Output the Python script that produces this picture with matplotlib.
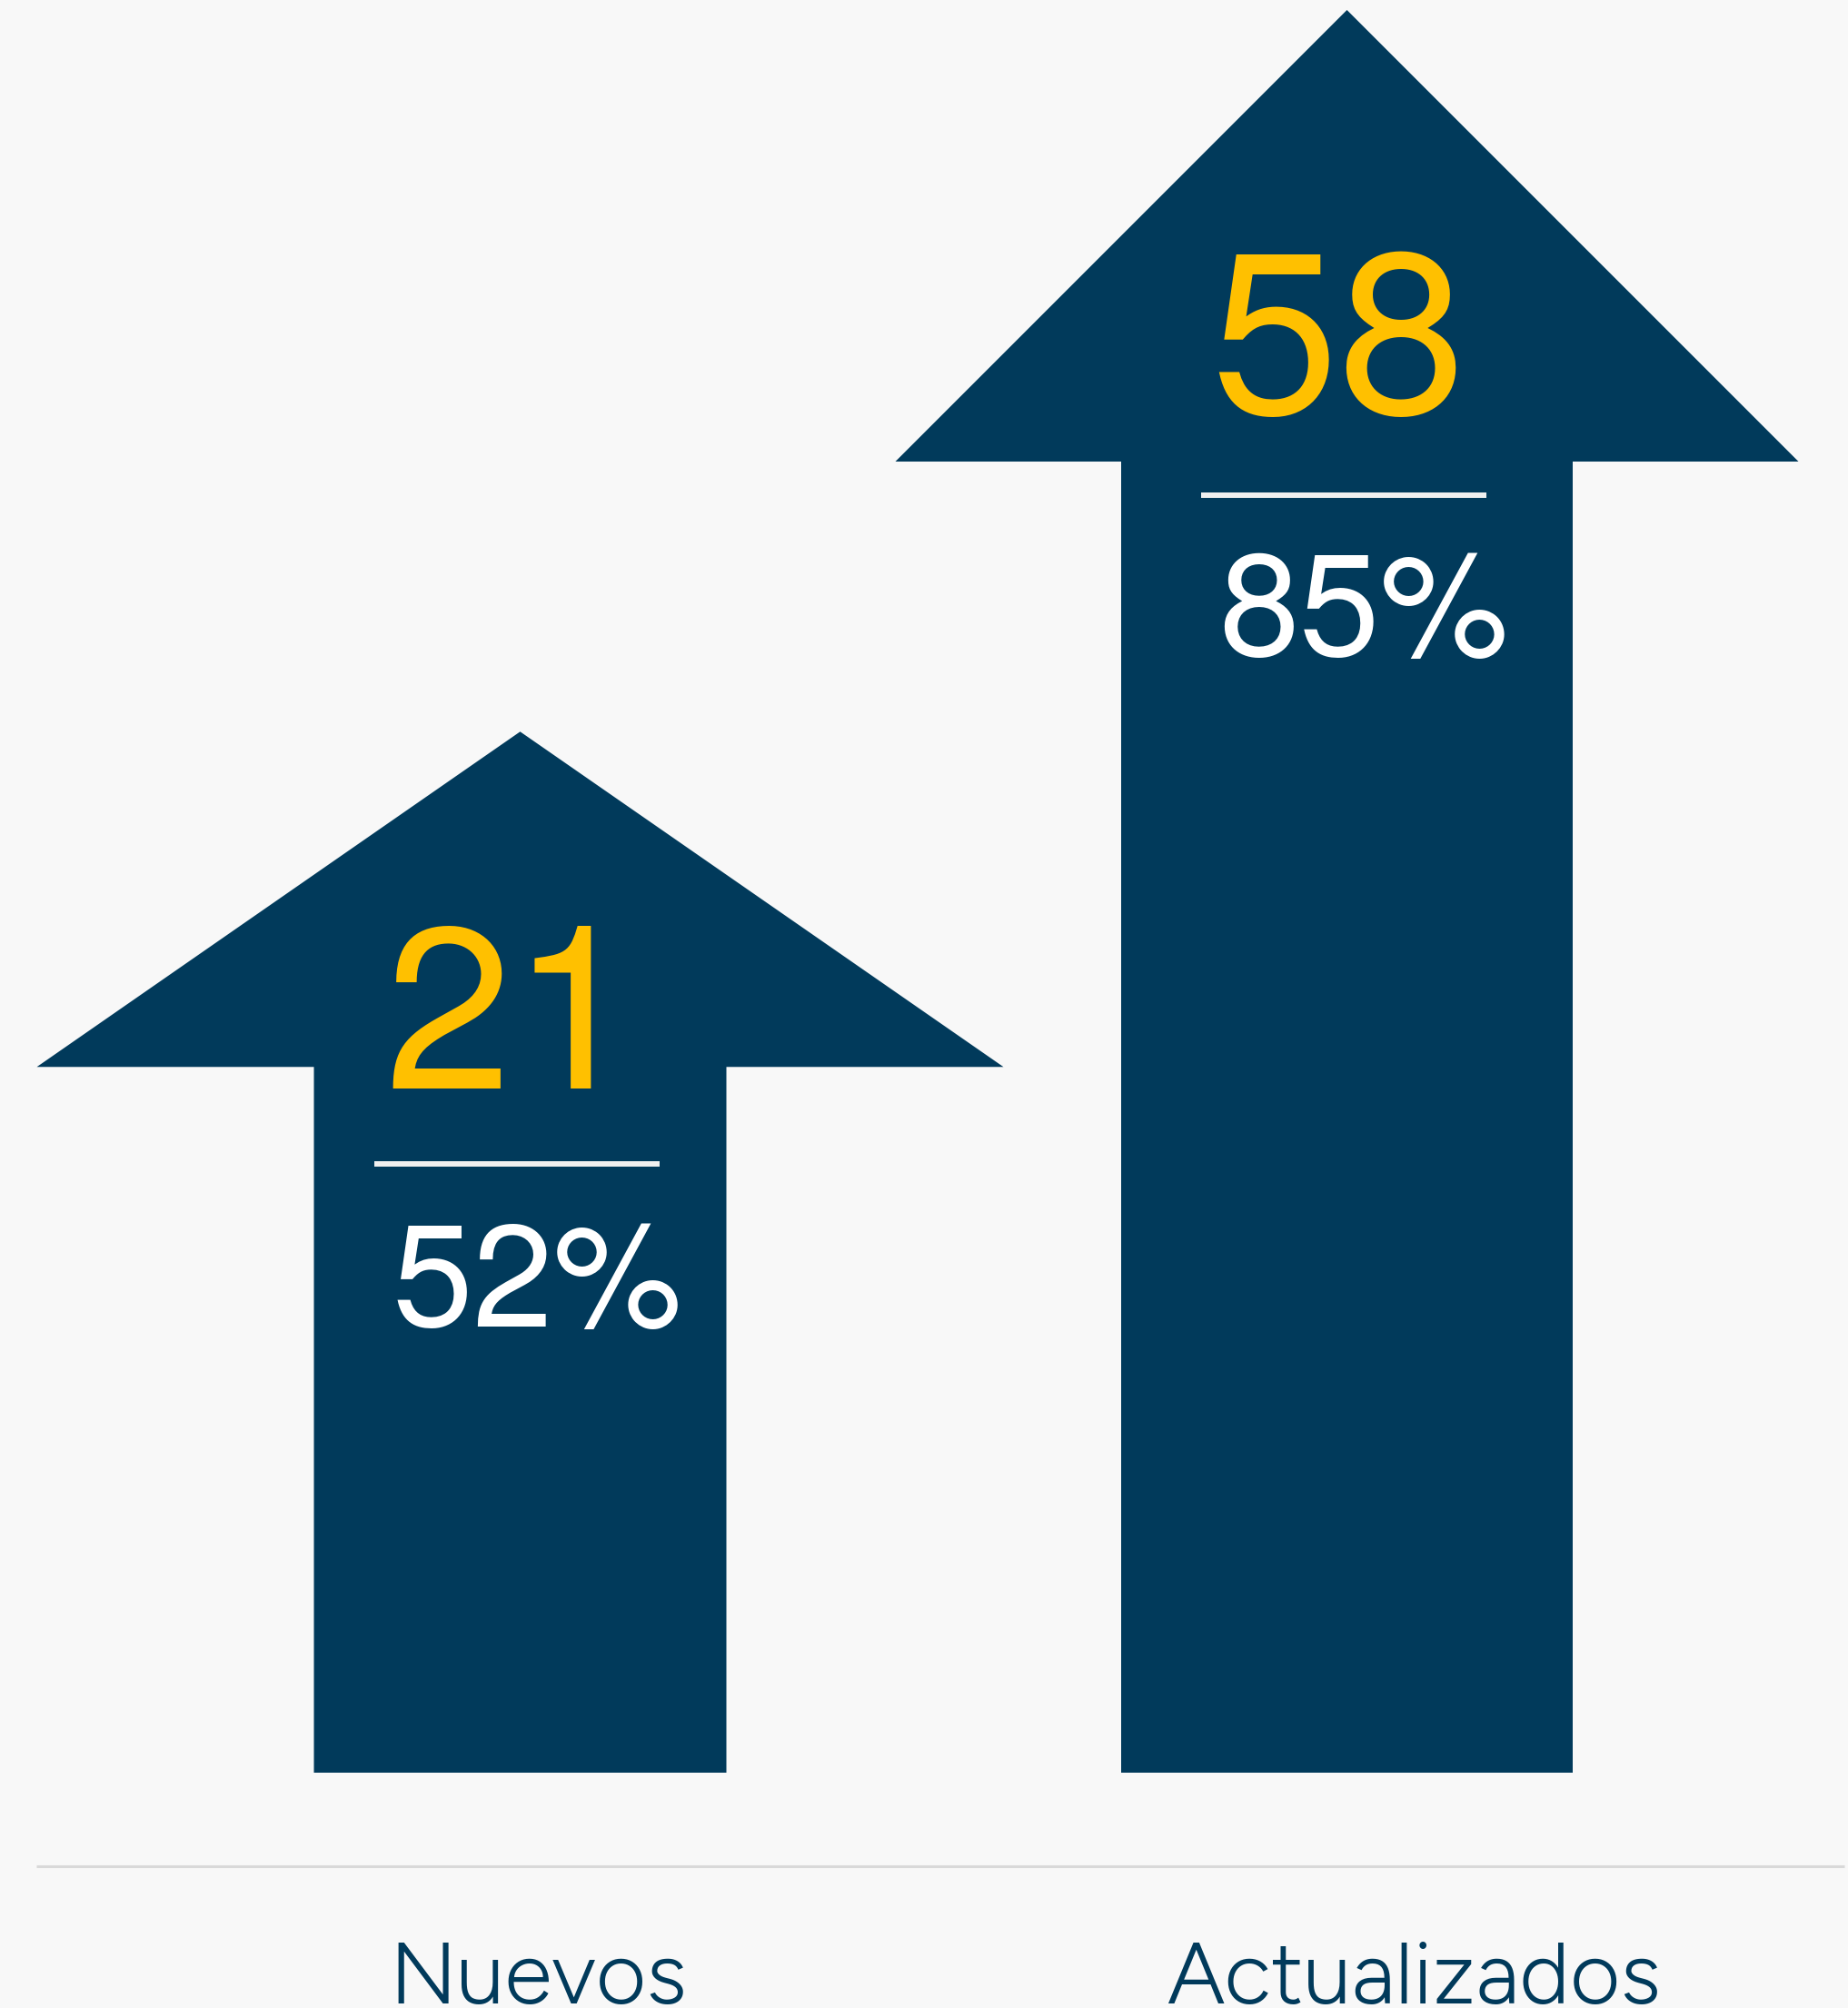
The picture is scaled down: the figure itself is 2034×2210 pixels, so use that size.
import matplotlib
matplotlib.use("Agg")
import matplotlib.pyplot as plt
from matplotlib.patches import Polygon

# ---------------- data ----------------
categories = ["Nuevos", "Actualizados"]
counts = [21, 58]                 # yellow numbers
shares = [52, 85]                 # white percentages (%)
arrow_tip = [50.2, 85.0]          # arrow height (percent scale)

# ---------------- style / layout ----------------
W, H, DPI = 2034, 2210, 100
BG = "#f8f8f8"
NAVY = "#013a5b"
YELLOW = "#ffc000"
WHITE = "#ffffff"
GRID = "#d9d9d9"
NUM_FONT = ["TeX Gyre Heros", "Liberation Sans", "DejaVu Sans"]
LAB_FONT = ["Figtree", "Lato", "DejaVu Sans"]

center_px0 = 572.5        # x pixel of first category centre
spacing_px = 910.0        # pixel distance between categories
base_px = 1951.0          # arrow bottom (from top)
top_px = 11.0             # tip of tallest arrow (from top)

shaft_half_px = [227.0, 248.5]
head_half_px = [532.0, 497.0]
head_len_px = [369.0, 497.0]

big_dy_px = [393.0, 444.0]      # number baseline below tip
line_dy_px = [476.0, 533.5]     # divider below tip
small_dy_px = [655.0, 711.0]    # percent baseline below tip
big_dx_px = -150.0
small_dx_px = -141.0
line_x0_px, line_x1_px = -161.0, 153.0
label_dx_px = [20.0, 73.5]
label_base_px = 2205.0
axis_line_px = 2054.0

fig = plt.figure(figsize=(W / DPI, H / DPI), dpi=DPI, facecolor=BG)
ax = fig.add_axes([0, 0, 1, 1])
ax.set_facecolor(BG)

ppu = (base_px - top_px) / max(arrow_tip)     # pixels per y unit
ux = 1.0 / spacing_px                          # x units per pixel
uy = 1.0 / ppu                                 # y units per pixel
xmin = -center_px0 * ux
xmax = (W - center_px0) * ux
ymin = -(H - base_px) * uy
ymax = base_px * uy
ax.set_xlim(xmin, xmax)
ax.set_ylim(ymin, ymax)
ax.axis("off")

def ypx(p):
    """pixel from top -> data y"""
    return (base_px - p) * uy

for i, cat in enumerate(categories):
    tip = arrow_tip[i]
    hb = tip - head_len_px[i] * uy
    sw = shaft_half_px[i] * ux
    hw = head_half_px[i] * ux
    verts = [(i - sw, 0), (i + sw, 0), (i + sw, hb), (i + hw, hb),
             (i, tip), (i - hw, hb), (i - sw, hb)]
    ax.add_patch(Polygon(verts, closed=True, facecolor=NAVY, edgecolor="none", zorder=2))

    ax.text(i + big_dx_px * ux, tip - big_dy_px[i] * uy, f"{counts[i]}",
            color=YELLOW, fontsize=182, family=NUM_FONT,
            ha="left", va="baseline", zorder=3)
    ly = tip - line_dy_px[i] * uy
    ax.plot([i + line_x0_px * ux, i + line_x1_px * ux], [ly, ly],
            color="#f0f0f0", lw=4.3, solid_capstyle="butt", zorder=3)
    ax.text(i + small_dx_px * ux, tip - small_dy_px[i] * uy, f"{shares[i]}%",
            color=WHITE, fontsize=115, family=NUM_FONT,
            ha="left", va="baseline", zorder=3)

    ax.text(i + label_dx_px[i] * ux, ypx(label_base_px), cat,
            color=NAVY, fontsize=69, family=LAB_FONT,
            ha="center", va="baseline", zorder=3)

ay = ypx(axis_line_px)
ax.plot([40 * ux + xmin, 2030 * ux + xmin], [ay, ay], color=GRID, lw=2.2,
        solid_capstyle="butt", zorder=1)

fig.savefig("out.png", dpi=DPI, facecolor=BG)
